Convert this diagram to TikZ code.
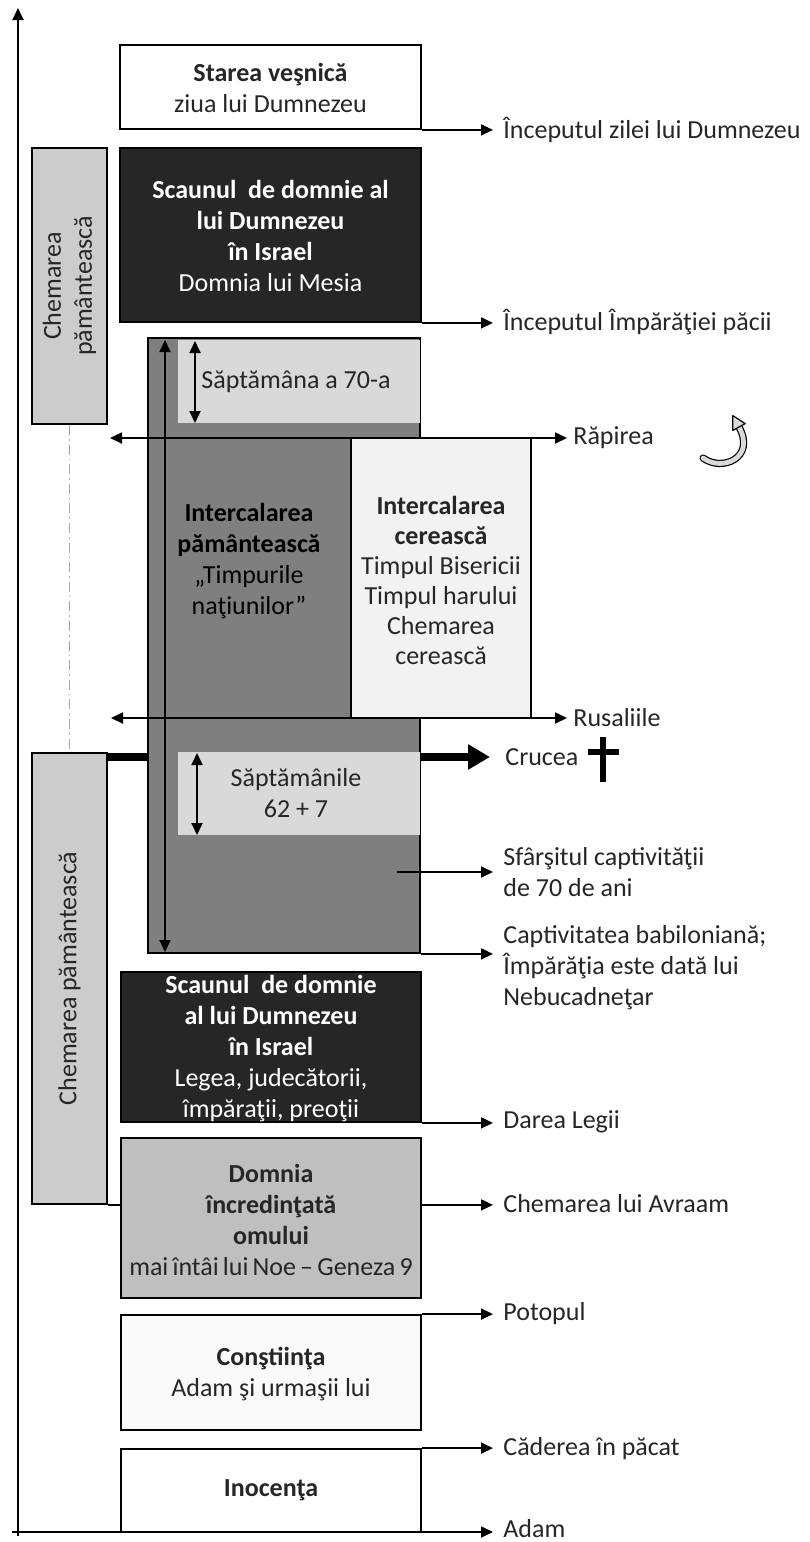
\documentclass[tikz,border=0pt]{standalone}
\usepackage{fontspec}
\setmainfont{Carlito}
\usetikzlibrary{fit,arrows.meta,backgrounds}
\definecolor{darkfill}{HTML}{262626}
\definecolor{midfill}{HTML}{7F7F7F}
\definecolor{lightfill}{HTML}{D9D9D9}
\definecolor{palefill}{HTML}{F2F2F2}
\definecolor{silverfill}{HTML}{BFBFBF}
\definecolor{sidefill}{HTML}{CCCCCC}
\definecolor{ghostfill}{HTML}{FAFAFA}
\definecolor{txt}{HTML}{262626}
\tikzset{
  box/.style={draw=black, line width=0.9pt, inner sep=0pt},
  areabox/.style={inner sep=0pt},
  lab/.style={anchor=west, inner sep=0pt, align=left, text=txt},
  plain/.style={inner sep=0pt, align=center, text=txt},
  arr/.style={line width=0.9pt, -{Triangle[length=6pt,width=5.5pt]}},
  darr/.style={line width=0.9pt, {Triangle[length=6pt,width=5.5pt]}-{Triangle[length=6pt,width=5.5pt]}},
  thickarr/.style={line width=4pt, -{Triangle[length=11pt,width=12pt]}},
}
\begin{document}
\begin{tikzpicture}[x=0.5pt, y=-0.5pt, font=\fontsize{13pt}{15.5pt}\selectfont]
\useasboundingbox (0,0) rectangle (809,1542);

% coordinates
\coordinate (axT) at (18,8);
\coordinate (axB) at (18,1536);
\coordinate (axL) at (12,1532);
\coordinate (rapL) at (110,438);
\coordinate (rusL) at (111,718);
\coordinate (crL) at (107,757);
\coordinate (sfL) at (397,872);
\coordinate (vT) at (165,340);
\coordinate (vB) at (165,952);
\coordinate (s70T) at (195,341);
\coordinate (s70B) at (195,423);
\coordinate (s62T) at (197,753);
\coordinate (s62B) at (197,835);

% left "Chemarea" boxes
\node[box, fill=sidefill, fit={(32,148) (107,424)}] (chTop) {};
\node[plain, rotate=90] (chTopT) at (chTop.center) {Chemarea\\pământească};
\node[box, fill=sidefill, fit={(32,753) (107,1204)}] (chBot) {};
\node[plain, rotate=90] (chBotT) at (chBot.center) {Chemarea pământească};

% main column
\node[box, fill=white, fit={(120,45) (421,129)}] (starea) {};
\node[plain] (tStarea) at ([yshift=-0.5pt]starea.center)
  {\textbf{Starea veşnică}\\ziua lui Dumnezeu};
\node[box, fill=darkfill, fit={(120,148) (421,322)}] (scTop) {};
\node[plain, text=white] (tScTop) at ([yshift=-0.5pt]scTop.center)
  {\textbf{Scaunul\ \ de domnie al}\\\textbf{lui Dumnezeu}\\\textbf{în Israel}\\Domnia lui Mesia};

\node[box, fill=midfill, fit={(148,338) (420,953)}] (big) {};
\node[areabox, fill=lightfill, fit={(178,339.5) (419.5,423)}] (s70) {};
\node[areabox, fill=lightfill, fit={(178,752) (419.5,835)}] (s62) {};
\node[box, fill=palefill, fit={(351,438) (531,718)}] (cer) {};
\node[plain, font=\fontsize{13pt}{15pt}\selectfont] (tCer) at ([yshift=-1pt]cer.center)
  {\textbf{Intercalarea}\\\textbf{cerească}\\Timpul Bisericii\\Timpul harului\\Chemarea\\cerească};
\node[plain, text=black] (tpam) at (249,561)
  {\textbf{Intercalarea}\\\textbf{pământească}\\„Timpurile\\naţiunilor”};
\node[lab] (t70) at (201,382) {Săptămâna a 70-a};
\node[plain] (t62) at (296,793) {Săptămânile\\62 + 7};

\node[box, fill=darkfill, fit={(121,972) (421,1122)}] (scBot) {};
\node[plain, text=white] (tScBot) at ([yshift=-1pt]scBot.center)
  {\textbf{Scaunul\ \ de domnie}\\\textbf{al lui Dumnezeu}\\\textbf{în Israel}\\Legea, judecătorii,\\împăraţii, preoţii};
\node[box, fill=silverfill, fit={(121,1138) (421,1298)}] (domn) {};
\node[plain] (tDomn) at ([yshift=-1pt]domn.center)
  {\textbf{Domnia}\\\textbf{încredinţată}\\\textbf{omului}\\{\spaceskip=0.16em plus 0.05em\relax mai întâi lui Noe – Geneza 9}};
\node[box, fill=ghostfill, fit={(121,1315) (421,1430)}] (const) {};
\node[plain] (tConst) at ([yshift=-1pt]const.center)
  {\textbf{Conştiinţa}\\Adam şi urmaşii lui};
\node[box, fill=white, fit={(121,1449) (421,1532)}] (inoc) {};
\node[plain] (tInoc) at (inoc.center) {\textbf{Inocenţa}};

% right labels
\node[lab] (lZi) at (503,130) {Începutul zilei lui Dumnezeu};
\node[lab] (lPa) at (503,322) {Începutul Împărăţiei păcii};
\node[lab] (lRa) at (573,438) {Răpirea};
\node[lab] (lRu) at (573,718) {Rusaliile};
\node[lab] (lCr) at (505,757) {Crucea};
\node[lab] (lSf) at (503,872) {Sfârşitul captivităţii\\de 70 de ani};
\node[lab] (lCa) at (503,968) {Captivitatea babiloniană;\\Împărăţia este dată lui\\Nebucadneţar};
\node[lab] (lLe) at (503,1122) {Darea Legii};
\node[lab] (lAv) at (503,1204) {Chemarea lui Avraam};
\node[lab] (lPo) at (503,1314) {Potopul};
\node[lab] (lCd) at (503,1449) {Căderea în păcat};
\node[lab] (lAd) at (503,1529) {Adam};

% background connectors (hidden by boxes where they cross them)
\begin{scope}[on background layer]
  \fill[white] (0,0) rectangle (809,1542);
  \draw[thickarr, shorten >=7.5pt] (crL) -- (crL -| lCr.west);
  \draw[arr, shorten >=5pt] (chBot.south east) -- (chBot.south east -| lAv.west);
\end{scope}

% connectors
\draw[arr] (axB) -- (axT);
\draw[arr, shorten >=5pt] (axL) -- (axL -| lAd.west);
\draw[arr, shorten >=5pt] (starea.south east) -- (starea.south east -| lZi.west);
\draw[arr, shorten >=5pt] (scTop.south east) -- (scTop.south east -| lPa.west);
\draw[darr, shorten >=3pt] (rapL) -- (rapL -| lRa.west);
\draw[darr, shorten >=3pt] (rusL) -- (rusL -| lRu.west);
\draw[darr] (vT) -- (vB);
\draw[darr] (s70T) -- (s70B);
\draw[darr] (s62T) -- (s62B);
\draw[arr, shorten >=5pt] (sfL) -- (sfL -| lSf.west);
\draw[arr, shorten >=5pt] (big.south east) -- (big.south east -| lCa.west);
\draw[arr, shorten >=5pt] (scBot.south east) -- (scBot.south east -| lLe.west);
\draw[arr, shorten >=5pt] (const.north east) -- (const.north east -| lPo.west);
\draw[arr, shorten >=5pt] (inoc.north east) -- (inoc.north east -| lCd.west);

% dash-dot link between the two Chemarea boxes
\draw[gray!70, line width=0.6pt, dash pattern=on 5pt off 2pt on 0.8pt off 2pt]
  (chTop.south) -- (chBot.north);

% cross
\draw[line width=3pt] (603,737) -- (603,782);
\draw[line width=3pt] (588,752) -- (619,752);

% curved rapture arrow
\draw[line width=0.6pt, line cap=round, double=lightfill, double distance=2.4pt]
  (703,458) .. controls (722,472) and (756,458) .. (739,427);
\filldraw[fill=lightfill, line width=0.6pt, line join=round]
  (732.8,415.6) -- (745.2,423.6) -- (732.8,430.4) -- cycle;
\end{tikzpicture}
\end{document}
